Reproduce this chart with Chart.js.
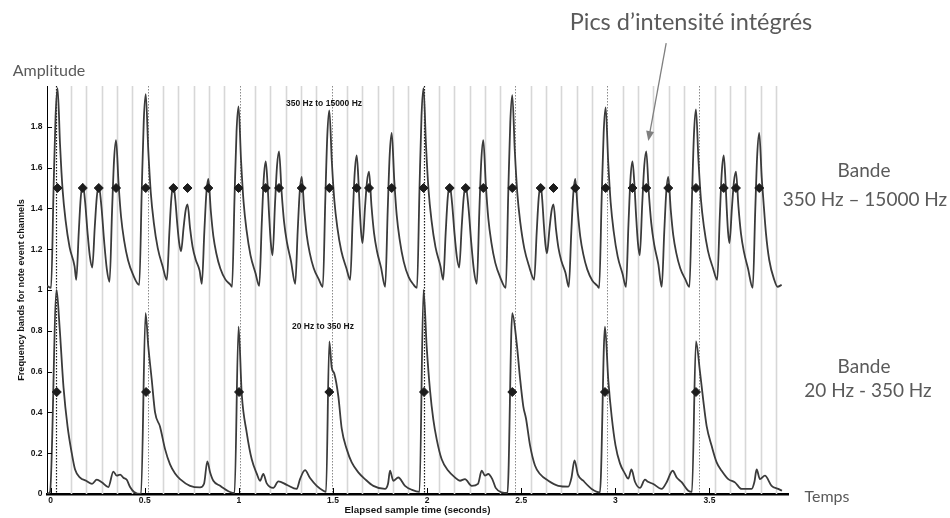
<!DOCTYPE html>
<html>
<head>
<meta charset="utf-8">
<script src="https://cdn.jsdelivr.net/npm/chart.js@4.4.0/dist/chart.umd.min.js"></script>
<style>
body { margin: 0; background: #fff; }
#wrap { position: relative; width: 950px; height: 518px; overflow: hidden; }
#chart { position: absolute; left: 0; top: 0; }
.note { position: absolute; font-family: Lato, 'Open Sans', sans-serif; color: #5a5a5a; white-space: nowrap; text-align: center; transform: translate(-50%, -50%); line-height: 1; }
.band { position: absolute; font-family: 'Liberation Sans', Arial, sans-serif; font-weight: bold; font-size: 8.5px; color: #161616; white-space: nowrap; transform: translateY(-50%); }
</style>
</head>
<body>
<div id="wrap">
<canvas id="chart" width="950" height="518"></canvas>
<div class="note" style="left:691px; top:22px; font-size:23.5px;">Pics d’intensité intégrés</div>
<div class="note" style="left:49px; top:70px; font-size:16px;">Amplitude</div>
<div class="note" style="left:864px; top:169px; font-size:19px;">Bande</div>
<div class="note" style="left:865px; top:198px; font-size:19px;">350 Hz – 15000 Hz</div>
<div class="note" style="left:864px; top:365px; font-size:19px;">Bande</div>
<div class="note" style="left:868px; top:389px; font-size:19px;">20 Hz - 350 Hz</div>
<div class="note" style="left:827px; top:496px; font-size:16px;">Temps</div>
<div class="band" style="left:286px; top:103px;">350 Hz to 15000 Hz</div>
<div class="band" style="left:292px; top:326px;">20 Hz to 350 Hz</div>
</div>
<script>
var xTicks = [0, 0.5, 1, 1.5, 2, 2.5, 3, 3.5];
var yTicks = [0, 0.2, 0.4, 0.6, 0.8, 1, 1.2, 1.4, 1.6, 1.8];

// beat grid (every 6th line = beat, every 24th = loop start)
var gridTimes = [0.028, 0.1094, 0.1908, 0.2721, 0.3535, 0.4349, 0.5163, 0.5977, 0.6790, 0.7604,
	0.8418, 0.9232, 1.0046, 1.0859, 1.1673, 1.2487, 1.3301, 1.4115, 1.4928, 1.5742,
	1.6556, 1.7370, 1.8184, 1.8997, 1.9811, 2.0625, 2.1439, 2.2253, 2.3066, 2.3880,
	2.4694, 2.5508, 2.6322, 2.7135, 2.7949, 2.8763, 2.9577, 3.0391, 3.1204, 3.2018,
	3.2832, 3.3646, 3.4460, 3.5273, 3.6087, 3.6901, 3.7715, 3.8529];

// 350 Hz - 15000 Hz band, one line per peak
var upperTime = [
	-0.0186, 0.0027, 0.0160, 0.0266, 0.0372, 0.0505, 0.0638, 0.0797, 0.1009, 0.1275, 0.1365,
	0.1498, 0.1604, 0.1710, 0.1836, 0.1963, 0.2089, 0.2215,
	0.2348, 0.2454, 0.2560, 0.2703, 0.2847, 0.2990, 0.3133,
	0.3266, 0.3372, 0.3478, 0.3611, 0.3744, 0.3903, 0.4115, 0.4381, 0.4711,
	0.4844, 0.4950, 0.5056, 0.5189, 0.5322, 0.5481, 0.5693, 0.5959, 0.6177,
	0.6310, 0.6416, 0.6522, 0.6624, 0.6727, 0.6829, 0.6931,
	0.7064, 0.7170, 0.7276, 0.7409, 0.7542, 0.7701, 0.7913, 0.8035,
	0.8168, 0.8274, 0.8380, 0.8513, 0.8646, 0.8805, 0.9017, 0.9283, 0.9548, 0.9639,
	0.9772, 0.9878, 0.9984, 1.0117, 1.0250, 1.0409, 1.0621, 1.0887, 1.1084,
	1.1217, 1.1323, 1.1429, 1.1519, 1.1610, 1.1700, 1.1790,
	1.1923, 1.2029, 1.2135, 1.2268, 1.2401, 1.2560, 1.2772, 1.2995,
	1.3128, 1.3234, 1.3340, 1.3473, 1.3606, 1.3765, 1.3977, 1.4243, 1.4461,
	1.4594, 1.4700, 1.4806, 1.4939, 1.5072, 1.5231, 1.5443, 1.5709, 1.5916,
	1.6049, 1.6155, 1.6261, 1.6338, 1.6415, 1.6492, 1.6569,
	1.6702, 1.6808, 1.6914, 1.7047, 1.7180, 1.7339, 1.7551, 1.7775,
	1.7908, 1.8014, 1.8120, 1.8253, 1.8386, 1.8545, 1.8757, 1.9023, 1.9288, 1.9464,
	1.9597, 1.9703, 1.9809, 1.9942, 2.0075, 2.0234, 2.0446, 2.0712, 2.0855,
	2.0988, 2.1094, 2.1200, 2.1326, 2.1453, 2.1579, 2.1705,
	2.1838, 2.1944, 2.2050, 2.2198, 2.2345, 2.2493, 2.2640,
	2.2773, 2.2879, 2.2985, 2.3118, 2.3251, 2.3410, 2.3622, 2.3888, 2.4180,
	2.4313, 2.4419, 2.4525, 2.4658, 2.4791, 2.4950, 2.5162, 2.5428, 2.5688,
	2.5821, 2.5927, 2.6033, 2.6117, 2.6201, 2.6284, 2.6368,
	2.6501, 2.6607, 2.6713, 2.6846, 2.6979, 2.7138, 2.7350, 2.7525,
	2.7658, 2.7764, 2.7870, 2.8003, 2.8136, 2.8295, 2.8507, 2.8773, 2.9038, 2.9140,
	2.9273, 2.9379, 2.9485, 2.9618, 2.9751, 2.9910, 3.0122, 3.0388, 3.0563,
	3.0696, 3.0802, 3.0908, 3.1005, 3.1102, 3.1199, 3.1296,
	3.1429, 3.1535, 3.1641, 3.1774, 3.1907, 3.2066, 3.2278, 3.2464,
	3.2597, 3.2703, 3.2809, 3.2942, 3.3075, 3.3234, 3.3446, 3.3712, 3.3936,
	3.4069, 3.4175, 3.4281, 3.4414, 3.4547, 3.4706, 3.4918, 3.5184, 3.5412,
	3.5545, 3.5651, 3.5757, 3.5833, 3.5909, 3.5984, 3.6060,
	3.6193, 3.6299, 3.6405, 3.6538, 3.6671, 3.6830, 3.7042, 3.7297,
	3.7430, 3.7536, 3.7642, 3.7775, 3.7855, 3.7997, 3.8173, 3.8439, 3.8614, 3.8833];
var upperAmp = [
	1.02, 1.01, 1.50, 1.853, 1.99, 1.708, 1.492, 1.341, 1.210, 1.116, 1.05,
	1.285, 1.454, 1.52, 1.43, 1.282, 1.163, 1.11,
	1.31, 1.454, 1.51, 1.407, 1.237, 1.101, 1.04,
	1.388, 1.638, 1.735, 1.522, 1.359, 1.245, 1.146, 1.075, 1.025,
	1.4925, 1.829, 1.96, 1.687, 1.478, 1.332, 1.205, 1.114, 1.05,
	1.2825, 1.45, 1.515, 1.4435, 1.3265, 1.232, 1.19,
	1.305, 1.388, 1.42, 1.303, 1.213, 1.151, 1.096, 1.03,
	1.2875, 1.473, 1.545, 1.386, 1.264, 1.179, 1.105, 1.052, 1.026, 1.015,
	1.4575, 1.776, 1.90, 1.636, 1.434, 1.293, 1.17, 1.082, 1.02,
	1.325, 1.545, 1.63, 1.529, 1.363, 1.23, 1.17,
	1.425, 1.609, 1.68, 1.485, 1.3355, 1.2315, 1.1405, 1.03,
	1.2925, 1.4815, 1.555, 1.393, 1.269, 1.182, 1.107, 1.053, 1.015,
	1.4475, 1.759, 1.88, 1.631, 1.44, 1.307, 1.191, 1.108, 1.05,
	1.355, 1.575, 1.66, 1.565, 1.411, 1.286, 1.23,
	1.405, 1.531, 1.58, 1.4105, 1.2805, 1.19, 1.111, 1.015,
	1.3925, 1.664, 1.77, 1.542, 1.367, 1.246, 1.139, 1.063, 1.025, 1.01,
	1.50, 1.853, 1.99, 1.708, 1.492, 1.341, 1.210, 1.116, 1.05,
	1.2825, 1.45, 1.515, 1.426, 1.28, 1.163, 1.11,
	1.31, 1.454, 1.51, 1.404, 1.232, 1.092, 1.03,
	1.3825, 1.636, 1.735, 1.5175, 1.351, 1.235, 1.133, 1.061, 1.01,
	1.4825, 1.823, 1.955, 1.6835, 1.475, 1.331, 1.204, 1.113, 1.05,
	1.2825, 1.45, 1.515, 1.441, 1.321, 1.224, 1.18,
	1.30, 1.386, 1.42, 1.2985, 1.205, 1.1405, 1.084, 1.015,
	1.28, 1.4708, 1.545, 1.3845, 1.2615, 1.176, 1.101, 1.047, 1.021, 1.01,
	1.4525, 1.771, 1.895, 1.631, 1.429, 1.288, 1.165, 1.077, 1.015,
	1.3225, 1.544, 1.63, 1.529, 1.363, 1.23, 1.17,
	1.425, 1.609, 1.68, 1.4805, 1.3276, 1.221, 1.128, 1.015,
	1.285, 1.4794, 1.555, 1.393, 1.269, 1.182, 1.107, 1.053, 1.015,
	1.45, 1.7632, 1.885, 1.6345, 1.442, 1.309, 1.192, 1.108, 1.05,
	1.355, 1.575, 1.66, 1.565, 1.411, 1.286, 1.23,
	1.405, 1.531, 1.58, 1.409, 1.278, 1.187, 1.107, 1.01,
	1.39, 1.664, 1.77, 1.55, 1.45, 1.28, 1.147, 1.05, 1.016, 1.025];

// 20 Hz - 350 Hz band
var lowerTime = [-0.0186, -0.0027, 0.0319, 0.0478, 0.0690, 0.0903, 0.1126, 0.1301, 0.1567, 0.1885,
	0.2204, 0.2454, 0.2719, 0.3070, 0.3335, 0.3516, 0.3691, 0.3866, 0.4047, 0.4222,
	0.4434, 0.4806, 0.5045, 0.5194, 0.5374, 0.5550, 0.5815, 0.6081, 0.6346, 0.6612,
	0.6877, 0.7408, 0.7940, 0.8152, 0.8327, 0.8471, 0.8646, 0.9002, 0.9533, 0.9772,
	0.9984, 1.0154, 1.0420, 1.0685, 1.0951, 1.1126, 1.1301, 1.1482, 1.1832, 1.2098,
	1.2544, 1.3075, 1.3250, 1.3516, 1.3781, 1.4137, 1.4488, 1.4631, 1.4806, 1.4934,
	1.5072, 1.5284, 1.5465, 1.5730, 1.5996, 1.6346, 1.6702, 1.7143, 1.7764, 1.7924,
	1.8030, 1.8205, 1.8470, 1.8826, 1.9198, 1.9596, 1.9809, 1.9979, 2.0154, 2.0329,
	2.0510, 2.0775, 2.1126, 2.1482, 2.1747, 2.2013, 2.2368, 2.2703, 2.2900, 2.3075,
	2.3250, 2.3463, 2.3643, 2.3962, 2.4270, 2.4525, 2.4758, 2.4934, 2.5109, 2.5253,
	2.5465, 2.5730, 2.5996, 2.6437, 2.6968, 2.7499, 2.7669, 2.7828, 2.8013, 2.8295,
	2.8742, 2.9182, 2.9448, 2.9623, 2.9804, 3.0005, 3.0244, 3.0510, 3.0685, 3.0855,
	3.1041, 3.1306, 3.1572, 3.1731, 3.2013, 3.2459, 3.2724, 3.3043, 3.3256, 3.3521,
	3.3872, 3.4068, 3.4281, 3.4493, 3.4668, 3.4849, 3.5114, 3.5380, 3.5645, 3.5996,
	3.6352, 3.6708, 3.7239, 3.7387, 3.7504, 3.7678, 3.7944, 3.8301, 3.8651, 3.8848];
var lowerAmp = [0, 0.01, 1.0, 0.82, 0.52, 0.33, 0.2, 0.12, 0.08, 0.065,
	0.05, 0.07, 0.058, 0.034, 0.11, 0.09, 0.095, 0.08, 0.07, 0.034,
	0.01, 0, 0.886, 0.72, 0.56, 0.40, 0.33, 0.22, 0.145, 0.10,
	0.073, 0.04, 0.032, 0.05, 0.16, 0.107, 0.065, 0.04, 0.01, 0.005,
	0.82, 0.49, 0.30, 0.17, 0.1, 0.065, 0.098, 0.052, 0.03, 0.062,
	0.045, 0.025, 0.073, 0.117, 0.078, 0.04, 0.016, 0.01, 0.748, 0.62,
	0.59, 0.48, 0.32, 0.22, 0.155, 0.106, 0.073, 0.04, 0.025, 0.05,
	0.114, 0.065, 0.081, 0.04, 0.02, 0.01, 1.0, 0.72, 0.51, 0.366,
	0.268, 0.17, 0.114, 0.081, 0.065, 0.073, 0.04, 0.05, 0.114, 0.09,
	0.098, 0.073, 0.03, 0.008, 0.005, 0.886, 0.74, 0.57, 0.43, 0.37,
	0.24, 0.14, 0.098, 0.065, 0.04, 0.036, 0.08, 0.165, 0.095, 0.065,
	0.025, 0.008, 0.82, 0.56, 0.38, 0.24, 0.15, 0.1, 0.075, 0.12,
	0.06, 0.03, 0.07, 0.06, 0.049, 0.025, 0.058, 0.114, 0.081, 0.058,
	0.016, 0.01, 0.748, 0.60, 0.46, 0.333, 0.236, 0.155, 0.114, 0.073,
	0.057, 0.025, 0.025, 0.06, 0.12, 0.073, 0.09, 0.04, 0.025, 0.016];

// detected note events
var upperOnsets = [0.0372, 0.1710, 0.2560, 0.3478, 0.5056, 0.6522, 0.7276, 0.8380, 0.9984, 1.1429,
	1.2135, 1.3340, 1.4806, 1.6261, 1.6914, 1.8120, 1.9809, 2.1200, 2.2050, 2.2985,
	2.4525, 2.6033, 2.6713, 2.7870, 2.9485, 3.0908, 3.1641, 3.2809, 3.4281, 3.5757,
	3.6405, 3.7642];
var lowerOnsets = [0.0329, 0.5072, 1.0011, 1.4806, 1.9835, 2.4525, 2.9448, 3.4281];
var upperLevel = 1.5;
var lowerLevel = 0.5;

var tickFont = { family: "'Liberation Sans', Arial, sans-serif", size: 8.5, weight: 'bold' };

function toPoints(xs, ys)
{
	return xs.map(function (t, i) { return { x: t, y: ys[i] }; });
}

function levelPoints(xs, level)
{
	return xs.map(function (t) { return { x: t, y: level }; });
}

var beatGrid = {
	id: 'beatGrid',
	beforeDatasetsDraw: function (chart)
	{
		var ctx = chart.ctx, area = chart.chartArea, sx = chart.scales.x;
		ctx.save();
		gridTimes.forEach(function (t, k)
		{
			var px = Math.round(sx.getPixelForValue(t)) + 0.5;
			ctx.beginPath();
			if (k % 24 == 0) {
				ctx.strokeStyle = '#1a1a1a'; ctx.lineWidth = 1.2; ctx.setLineDash([1.5, 1.5]);
			} else if (k % 6 == 0) {
				ctx.strokeStyle = '#8a8a8a'; ctx.lineWidth = 1; ctx.setLineDash([1.5, 1.5]);
			} else {
				ctx.strokeStyle = '#d7d7d7'; ctx.lineWidth = 1.6; ctx.setLineDash([]);
			}
			ctx.moveTo(px, area.top);
			ctx.lineTo(px, area.bottom);
			ctx.stroke();
		});
		ctx.restore();
	},
	afterDraw: function (chart)
	{
		var ctx = chart.ctx, area = chart.chartArea, sx = chart.scales.x, sy = chart.scales.y;
		ctx.save();
		// inward tick marks, matlab style
		ctx.strokeStyle = '#000';
		ctx.lineWidth = 1;
		ctx.beginPath();
		yTicks.forEach(function (v)
		{
			var py = Math.round(sy.getPixelForValue(v)) + 0.5;
			ctx.moveTo(area.left, py);
			ctx.lineTo(area.left + 5, py);
		});
		xTicks.forEach(function (v)
		{
			var px = Math.round(sx.getPixelForValue(v)) + 0.5;
			ctx.moveTo(px, area.bottom);
			ctx.lineTo(px, area.bottom - 6);
		});
		ctx.stroke();

		// arrow from the annotation down to a peak
		var x1 = sx.getPixelForValue(3.27), y1 = sy.getPixelForValue(2.21);
		var x2 = sx.getPixelForValue(3.175), y2 = sy.getPixelForValue(1.73);
		var ang = Math.atan2(y2 - y1, x2 - x1);
		ctx.strokeStyle = '#7f7f7f';
		ctx.fillStyle = '#7f7f7f';
		ctx.lineWidth = 1.3;
		ctx.beginPath();
		ctx.moveTo(x1, y1);
		ctx.lineTo(x2 - 8 * Math.cos(ang), y2 - 8 * Math.sin(ang));
		ctx.stroke();
		ctx.beginPath();
		ctx.moveTo(x2, y2);
		ctx.lineTo(x2 - 10 * Math.cos(ang) + 4 * Math.sin(ang), y2 - 10 * Math.sin(ang) - 4 * Math.cos(ang));
		ctx.lineTo(x2 - 10 * Math.cos(ang) - 4 * Math.sin(ang), y2 - 10 * Math.sin(ang) + 4 * Math.cos(ang));
		ctx.closePath();
		ctx.fill();
		ctx.restore();
	}
};

new Chart(document.getElementById('chart'), {
	type: 'line',
	data: {
		datasets: [
			{
				label: 'Onsets 350-15000 Hz',
				data: levelPoints(upperOnsets, upperLevel),
				showLine: false,
				pointStyle: 'rectRot',
				pointRadius: 4.5,
				backgroundColor: '#1c1c1c',
				borderColor: '#1c1c1c',
				borderWidth: 1,
				order: 0
			},
			{
				label: 'Onsets 20-350 Hz',
				data: levelPoints(lowerOnsets, lowerLevel),
				showLine: false,
				pointStyle: 'rectRot',
				pointRadius: 4.5,
				backgroundColor: '#1c1c1c',
				borderColor: '#1c1c1c',
				borderWidth: 1,
				order: 0
			},
			{
				label: '350 Hz to 15000 Hz',
				data: toPoints(upperTime, upperAmp),
				borderColor: '#3b3b3b',
				borderWidth: 1.8,
				pointRadius: 0,
				cubicInterpolationMode: 'monotone',
				fill: false,
				order: 1
			},
			{
				label: '20 Hz to 350 Hz',
				data: toPoints(lowerTime, lowerAmp),
				borderColor: '#3b3b3b',
				borderWidth: 1.8,
				pointRadius: 0,
				cubicInterpolationMode: 'monotone',
				fill: false,
				order: 1
			}
		]
	},
	options: {
		responsive: false,
		animation: false,
		devicePixelRatio: 1,
		layout: { padding: { left: 0, right: 162, top: 86, bottom: 0 } },
		plugins: { legend: { display: false }, tooltip: { enabled: false } },
		scales: {
			x: {
				type: 'linear',
				min: -0.019,
				max: 3.917,
				afterBuildTicks: function (s) { s.ticks = xTicks.map(function (v) { return { value: v }; }); },
				afterFit: function (s) { s.height = 24; },
				grid: { display: false, drawTicks: false },
				border: { display: true, color: '#000', width: 2.5 },
				ticks: { font: tickFont, color: '#141414', padding: 2, maxRotation: 0, autoSkip: false,
					callback: function (v) { return String(v); } },
				title: { display: true, text: 'Elapsed sample time (seconds)', color: '#141414',
					font: { family: "'Liberation Sans', Arial, sans-serif", size: 9.8, weight: 'bold' },
					padding: { top: 0, bottom: 2 } }
			},
			y: {
				min: 0,
				max: 2,
				afterBuildTicks: function (s) { s.ticks = yTicks.map(function (v) { return { value: v }; }); },
				afterFit: function (s) { s.width = 47; },
				grid: { display: false, drawTicks: false },
				border: { display: true, color: '#000', width: 1 },
				ticks: { font: tickFont, color: '#141414', padding: 4.5,
					callback: function (v) { return String(+v.toFixed(1)); } },
				title: { display: true, text: 'Frequency bands for note event channels', color: '#141414',
					font: { family: "'Liberation Sans', Arial, sans-serif", size: 9.2, weight: 'bold' },
					padding: { top: 16, bottom: 0 } }
			}
		}
	},
	plugins: [beatGrid]
});
</script>
</body>
</html>
